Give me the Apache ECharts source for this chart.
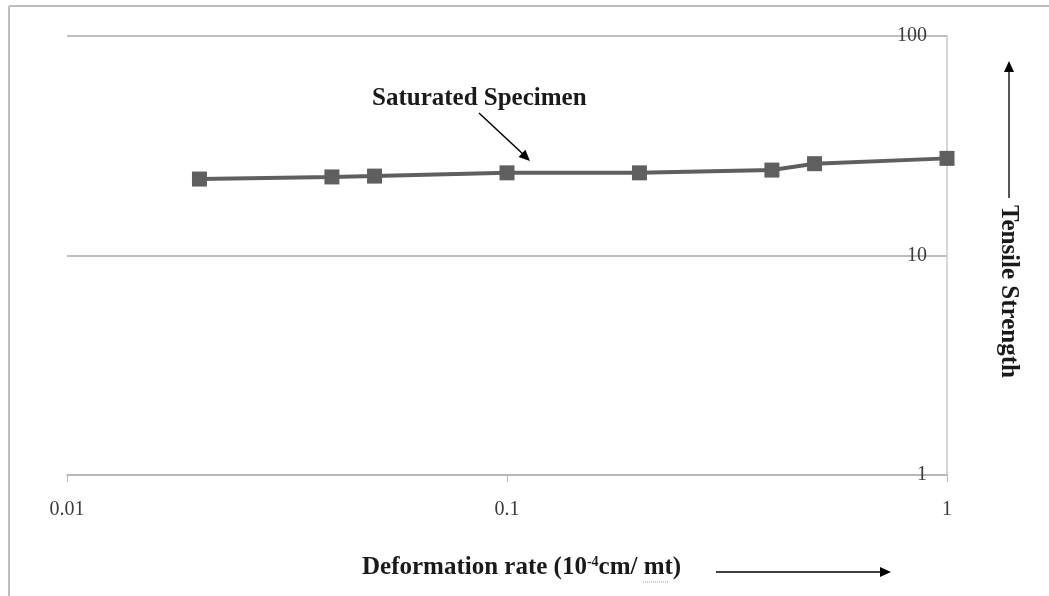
<!DOCTYPE html>
<html>
<head>
<meta charset="utf-8">
<script src="https://cdn.jsdelivr.net/npm/echarts@6/dist/echarts.min.js"></script>
<style>
  html, body { margin: 0; padding: 0; background: #fff; }
  #main { width: 1049px; height: 596px; }
</style>
</head>
<body>
<div id="main"></div>
<script>
// deformation rate (x) and tensile strength (y)
var rates = [0.02, 0.04, 0.05, 0.1, 0.2, 0.4, 0.5, 1];
var strength = [22.3, 22.8, 23.0, 23.8, 23.8, 24.5, 26.2, 27.7];
var xTicks = [0.01, 0.1, 1];
var yTicks = [1, 10, 100];

var chart = echarts.init(document.getElementById('main'));

var serif = '"Liberation Serif", "DejaVu Serif", serif';

var points = rates.map(function (r, i) { return [r, strength[i]]; });

// arrow heads as small triangles
function head(x, y, ang) {
    var s = 11, w = 5;
    var c = Math.cos(ang), d = Math.sin(ang);
    return {
        type: 'polygon',
        shape: {
            points: [
                [x, y],
                [x - s * c + w * d, y - s * d - w * c],
                [x - s * c - w * d, y - s * d + w * c]
            ]
        },
        style: { fill: '#000' }
    };
}

var option = {
    backgroundColor: '#fff',
    animation: false,
    grid: { left: 67, right: 102, top: 36, bottom: 121 },
    xAxis: {
        type: 'log',
        logBase: 10,
        min: xTicks[0],
        max: xTicks[xTicks.length - 1],
        axisLine: { lineStyle: { color: '#b5b5b5', width: 1.5 } },
        axisTick: { show: true, length: 7, lineStyle: { color: '#b5b5b5' } },
        axisLabel: {
            margin: 25,
            color: '#3a3a3a',
            fontFamily: serif,
            fontSize: 20,
            formatter: function (v) { return String(v); }
        },
        splitLine: { show: false },
        minorTick: { show: false }
    },
    yAxis: {
        type: 'log',
        logBase: 10,
        min: yTicks[0],
        max: yTicks[yTicks.length - 1],
        position: 'right',
        axisLine: { show: true, lineStyle: { color: '#c8c8c8', width: 1.5 } },
        axisTick: { show: false },
        axisLabel: {
            inside: true,
            margin: 20,
            color: '#3a3a3a',
            fontFamily: serif,
            fontSize: 20,
            formatter: function (v) { return String(v); }
        },
        splitLine: { show: true, lineStyle: { color: '#a8a8a8', width: 1.5 } }
    },
    series: [{
        type: 'line',
        data: points,
        symbol: 'rect',
        symbolSize: 15,
        lineStyle: { color: '#5f5f5f', width: 4 },
        itemStyle: { color: '#5f5f5f' }
    }],
    graphic: [
        // outer frame
        { type: 'line', shape: { x1: 9, y1: 6, x2: 1049, y2: 6 }, style: { stroke: '#bdbdbd', lineWidth: 2 } },
        { type: 'line', shape: { x1: 9, y1: 6, x2: 9, y2: 596 }, style: { stroke: '#bdbdbd', lineWidth: 2 } },
        // annotation
        {
            type: 'text', x: 372, y: 99,
            style: { text: 'Saturated Specimen', font: 'bold 25px ' + serif, fill: '#1a1a1a', verticalAlign: 'middle' }
        },
        { type: 'line', shape: { x1: 479, y1: 113, x2: 524, y2: 155 }, style: { stroke: '#000', lineWidth: 1.5 } },
        head(530, 161, Math.atan2(48, 51)),
        // x title
        {
            type: 'text', x: 362, y: 568,
            style: {
                text: '{a|Deformation rate (10}{s|-4}{a|cm/ mt)}',
                verticalAlign: 'middle',
                rich: {
                    a: { font: 'bold 25px ' + serif, fill: '#1a1a1a' },
                    s: { font: 'bold 14px ' + serif, fill: '#1a1a1a', padding: [0, 0, 11, 0] }
                }
            }
        },
        // spell-check squiggle under "mt"
        { type: 'line', shape: { x1: 643, y1: 582, x2: 668, y2: 582 }, style: { stroke: '#9a9a9a', lineWidth: 1, lineDash: [1, 1] } },
        { type: 'line', shape: { x1: 716, y1: 572, x2: 880, y2: 572 }, style: { stroke: '#000', lineWidth: 1.5 } },
        head(891, 572, 0),
        // y title
        {
            type: 'text', x: 1008, y: 205, rotation: -Math.PI / 2,
            style: { text: 'Tensile Strength', font: 'bold 25px ' + serif, fill: '#1a1a1a', verticalAlign: 'middle' }
        },
        { type: 'line', shape: { x1: 1009, y1: 198, x2: 1009, y2: 72 }, style: { stroke: '#555', lineWidth: 2 } },
        head(1009, 61, -Math.PI / 2)
    ]
};

chart.setOption(option);
</script>
</body>
</html>
